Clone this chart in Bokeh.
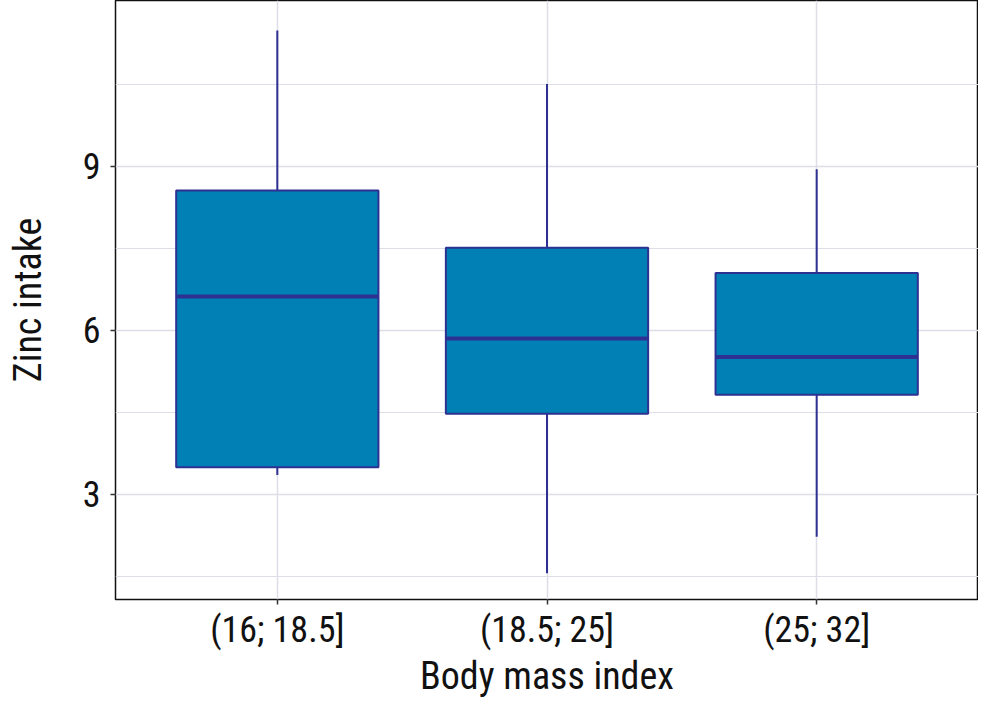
from bokeh.plotting import figure
from bokeh.models import FixedTicker, Range1d
from bokeh.embed import file_html
from bokeh.resources import INLINE

categories = ["(16; 18.5]", "(18.5; 25]", "(25; 32]"]
q1 = [3.49, 4.47, 4.82]
median = [6.62, 5.85, 5.51]
q3 = [8.56, 7.51, 7.05]
whisker_low = [3.35, 1.55, 2.22]
whisker_high = [11.49, 10.51, 8.95]
y_ticks = [3, 6, 9]
y_minor = [1.5, 4.5, 7.5, 10.5]

pos = [i + 1 for i in range(len(categories))]
FONT = "'Roboto Condensed', 'Liberation Sans Narrow', 'DejaVu Sans Condensed', sans-serif"
FILL = "#0080B4"
LINE = "#2E3192"
GRID = "#DEDEE8"

p = figure(width=978, height=700, output_backend="svg", toolbar_location=None,
           x_range=Range1d(0.4, 3.6), y_range=Range1d(1.07, 12.04),
           min_border_left=115, min_border_right=0, min_border_top=0, min_border_bottom=92)

bw = 0.75
p.segment(x0=pos, y0=q3, x1=pos, y1=whisker_high, line_color=LINE, line_width=2)
p.segment(x0=pos, y0=whisker_low, x1=pos, y1=q1, line_color=LINE, line_width=2)
p.vbar(x=pos, width=bw, bottom=q1, top=q3, fill_color=FILL, line_color=LINE, line_width=2)
p.segment(x0=[x - bw / 2 for x in pos], y0=median, x1=[x + bw / 2 for x in pos], y1=median,
          line_color=LINE, line_width=4)

p.xaxis.ticker = FixedTicker(ticks=pos)
p.xaxis.major_label_overrides = {pos[i]: categories[i] for i in range(len(pos))}
p.yaxis.ticker = FixedTicker(ticks=y_ticks, minor_ticks=y_minor)
p.xgrid.ticker = FixedTicker(ticks=pos)
p.ygrid.ticker = FixedTicker(ticks=y_ticks, minor_ticks=y_minor)

for g in (p.xgrid, p.ygrid):
    g.grid_line_color = GRID
    g.grid_line_width = 1.5
p.ygrid.minor_grid_line_color = GRID
p.ygrid.minor_grid_line_width = 1.2

for ax in (p.xaxis, p.yaxis):
    ax.axis_line_color = None
    ax.major_tick_line_color = "#333333"
    ax.major_tick_line_width = 1.5
    ax.major_tick_out = 5
    ax.major_tick_in = 0
    ax.minor_tick_line_color = None
    ax.major_label_text_font = FONT
    ax.major_label_text_font_size = "36px"
    ax.major_label_text_color = "#111111"
    ax.axis_label_text_font = FONT
    ax.axis_label_text_font_size = "38px"
    ax.axis_label_text_font_style = "normal"
    ax.axis_label_text_color = "#111111"

p.xaxis.axis_label = "Body mass index"
p.yaxis.axis_label = "Zinc intake"
p.yaxis.major_label_orientation = "horizontal"
p.xaxis.major_label_standoff = 4
p.yaxis.major_label_standoff = 10
p.xaxis.axis_label_standoff = 0
p.yaxis.axis_label_standoff = 30

p.outline_line_color = "#111111"
p.outline_line_width = 1.5
p.background_fill_color = "white"
p.border_fill_color = "white"

open("out.html", "w").write(file_html(p, INLINE))
